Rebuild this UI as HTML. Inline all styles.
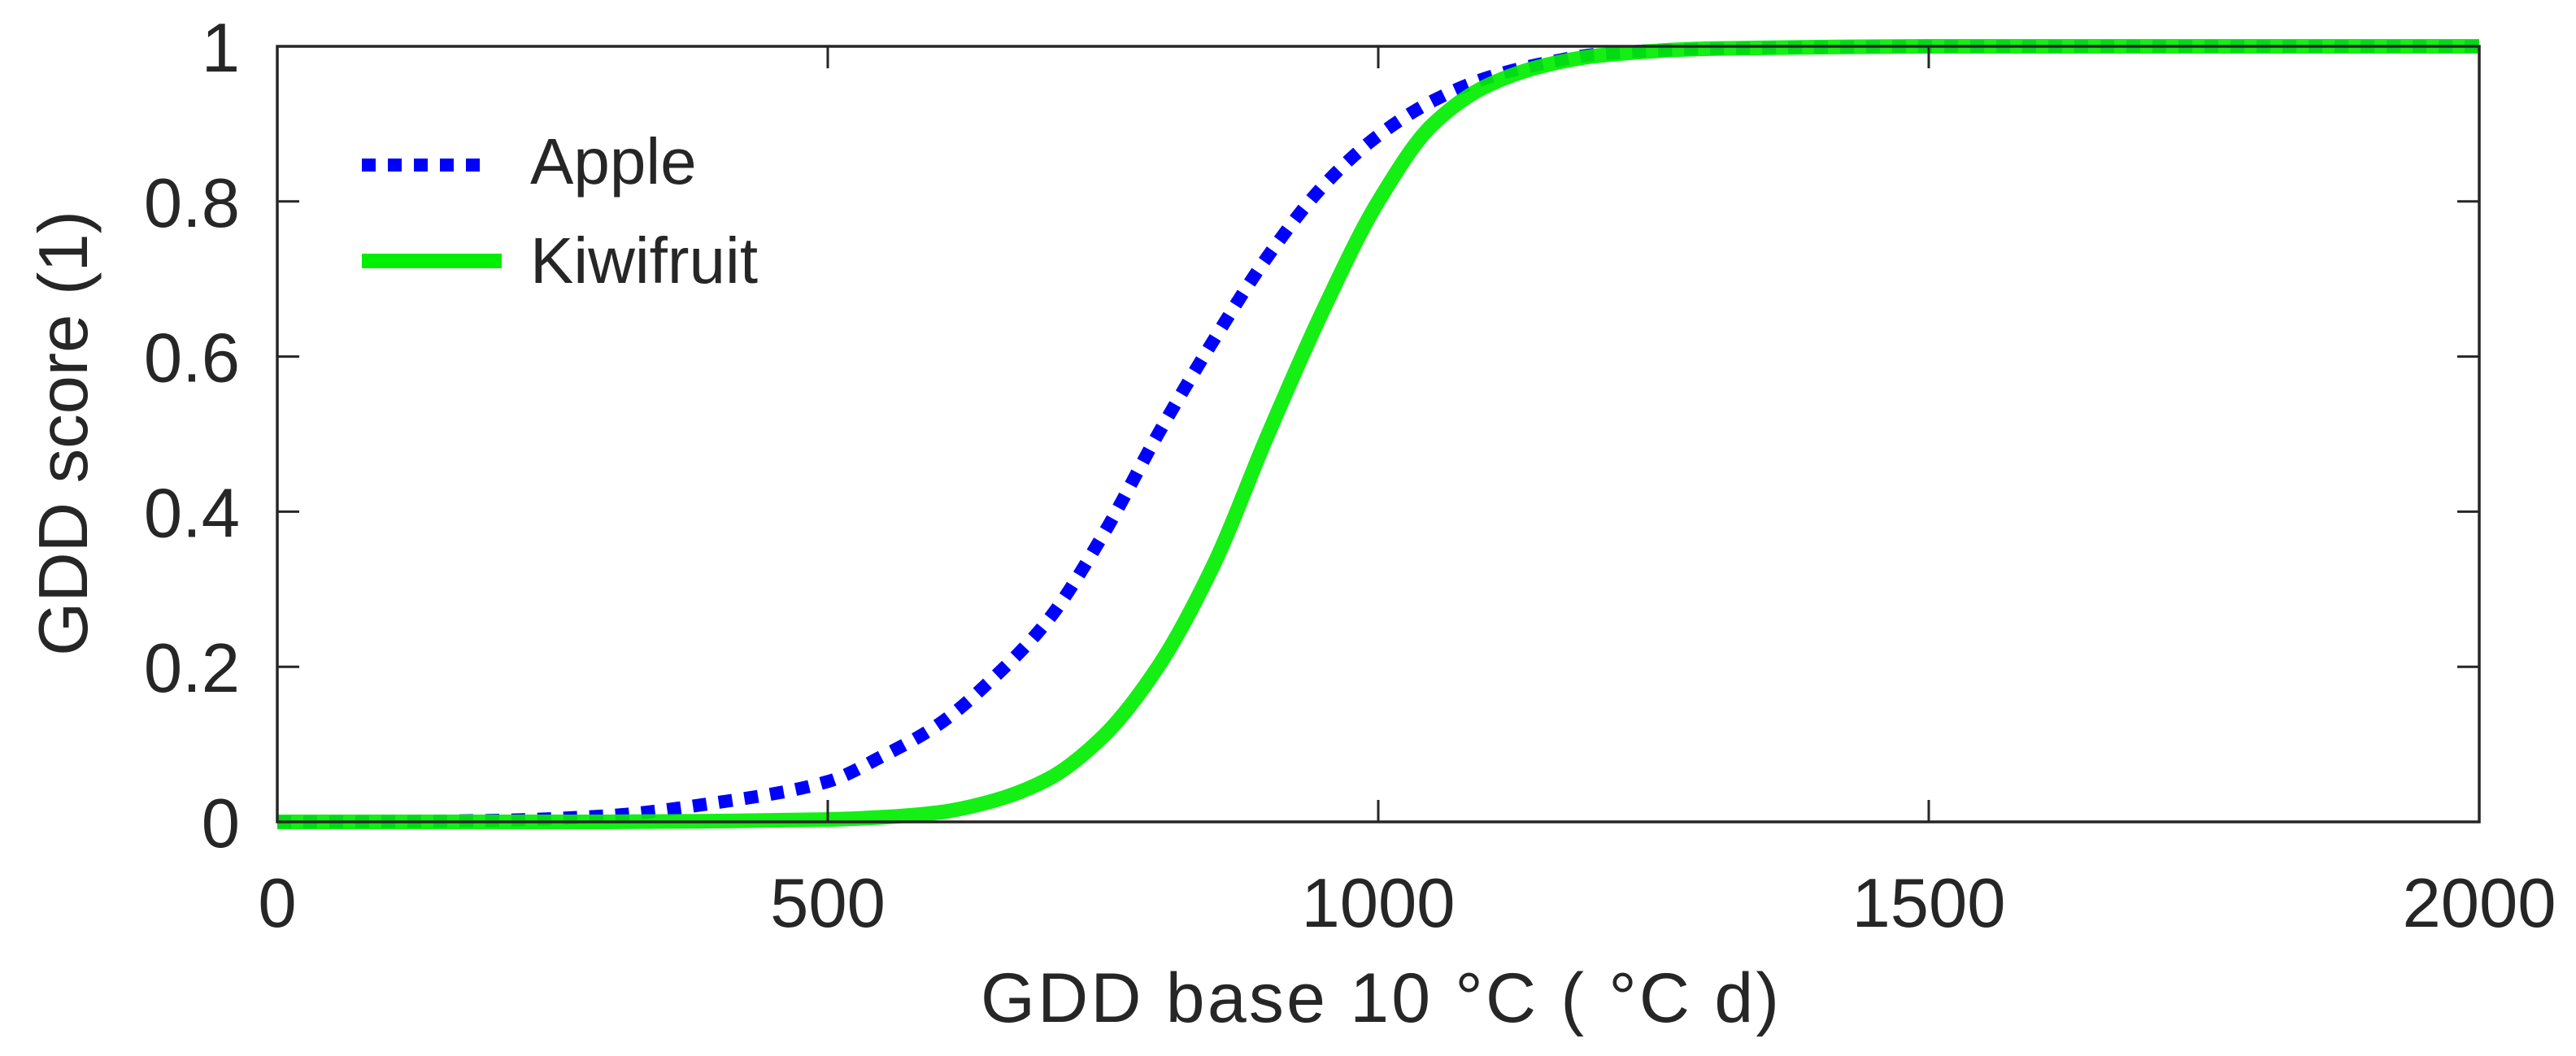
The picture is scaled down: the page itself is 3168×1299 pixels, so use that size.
<!DOCTYPE html>
<html><head><meta charset="utf-8"><style>
html,body{margin:0;padding:0;background:#fff}
svg{display:block}
text{font-family:"Liberation Sans",sans-serif;fill:#262626}
</style></head><body>
<svg id="chart" width="3168" height="1299" viewBox="0 0 3168 1299" xmlns="http://www.w3.org/2000/svg">
<g id="series"></g>
<g id="axes"></g>
<g id="legend">
  <line x1="445" y1="203" x2="605" y2="203" stroke="#0000ff" stroke-width="16" stroke-dasharray="17 15"/>
  <text x="652" y="226" font-size="80">Apple</text>
  <line x1="445" y1="321" x2="617" y2="321" stroke="#00ee00" stroke-width="18"/>
  <text x="652" y="348" font-size="80">Kiwifruit</text>
</g>
<text transform="translate(107,533) rotate(-90)" text-anchor="middle" font-size="85">GDD score (1)</text>
<text x="1206" y="1257" font-size="86" textLength="982" lengthAdjust="spacing">GDD base 10 °C ( °C d)</text>
</svg>
<script>
const gdd = [0,100,200,300,400,500,550,600,650,700,750,800,850,900,950,1000,1050,1100,1150,1200,1300,1400,1500,1750,2000];
const appleScore = [0,0.0005,0.002,0.008,0.025,0.052,0.085,0.125,0.185,0.26,0.37,0.50,0.62,0.73,0.82,0.885,0.93,0.96,0.978,0.99,0.997,0.999,1,1,1];
const kiwiScore = [0,0,0,0,0.001,0.003,0.006,0.012,0.027,0.055,0.11,0.20,0.33,0.50,0.66,0.80,0.90,0.95,0.975,0.988,0.997,0.999,1,1,1];
const xTicks = [0,500,1000,1500,2000];
const yTicks = [0,0.2,0.4,0.6,0.8,1];
const yTickLabels = ["0","0.2","0.4","0.6","0.8","1"];

const X0=341,X1=3049,Y0=1011,Y1=57;
const xs = v => X0 + (v-0)/(2000-0)*(X1-X0);
const ys = v => Y0 - v*(Y0-Y1);
const NS="http://www.w3.org/2000/svg";
function mk(tag, attrs){const e=document.createElementNS(NS,tag);for(const k in attrs)e.setAttribute(k,attrs[k]);return e;}

// monotone cubic (Fritsch-Carlson) path
function pathFor(xv, yv){
  const n=xv.length, px=xv.map(xs), py=yv.map(ys);
  const d=[],m=new Array(n);
  for(let i=0;i<n-1;i++) d.push((py[i+1]-py[i])/(px[i+1]-px[i]));
  m[0]=d[0]; m[n-1]=d[n-2];
  for(let i=1;i<n-1;i++){
    if(d[i-1]*d[i]<=0) m[i]=0;
    else { const h0=px[i]-px[i-1],h1=px[i+1]-px[i];
      const w1=2*h1+h0,w2=h1+2*h0; m[i]=(w1+w2)/(w1/d[i-1]+w2/d[i]); }
  }
  let s="M"+px[0]+","+py[0];
  for(let i=0;i<n-1;i++){
    const h=(px[i+1]-px[i])/3;
    s+=" C"+(px[i]+h)+","+(py[i]+m[i]*h)+" "+(px[i+1]-h)+","+(py[i+1]-m[i+1]*h)+" "+px[i+1]+","+py[i+1];
  }
  return s;
}
const series=document.getElementById('series');
const ap=mk('path',{d:pathFor(gdd,appleScore),fill:'none',stroke:'#0000ff','stroke-width':16,'stroke-dasharray':'17 15'});


series.appendChild(ap);
const kw=mk('path',{d:pathFor(gdd,kiwiScore),fill:'none',stroke:'#00ee00','stroke-width':18,'stroke-opacity':0.92});


series.appendChild(kw);

const axes=document.getElementById('axes');
const frame=mk('rect',{x:X0,y:Y1,width:X1-X0,height:Y0-Y1,fill:'none',stroke:'#262626','stroke-width':3.5});


axes.appendChild(frame);
xTicks.forEach(t=>{
  const x=xs(t);
  const tb=mk('line',{x1:x,y1:Y0,x2:x,y2:Y0-27,stroke:'#262626','stroke-width':3});
  
  
  axes.appendChild(tb);
  const tt=mk('line',{x1:x,y1:Y1,x2:x,y2:Y1+27,stroke:'#262626','stroke-width':3});
  
  
  axes.appendChild(tt);
  const lb=mk('text',{x:x,y:1140,'text-anchor':'middle','font-size':85});
  lb.textContent=String(t);
  
  
  axes.appendChild(lb);
});
yTicks.forEach((t,i)=>{
  const y=ys(t);
  const tl=mk('line',{x1:X0,y1:y,x2:X0+27,y2:y,stroke:'#262626','stroke-width':3});
  
  
  axes.appendChild(tl);
  const tr=mk('line',{x1:X1,y1:y,x2:X1-27,y2:y,stroke:'#262626','stroke-width':3});
  
  
  axes.appendChild(tr);
  const lb=mk('text',{x:295,y:y+31,'text-anchor':'end','font-size':85});
  lb.textContent=yTickLabels[i];
  
  
  axes.appendChild(lb);
});
</script>
</body></html>
